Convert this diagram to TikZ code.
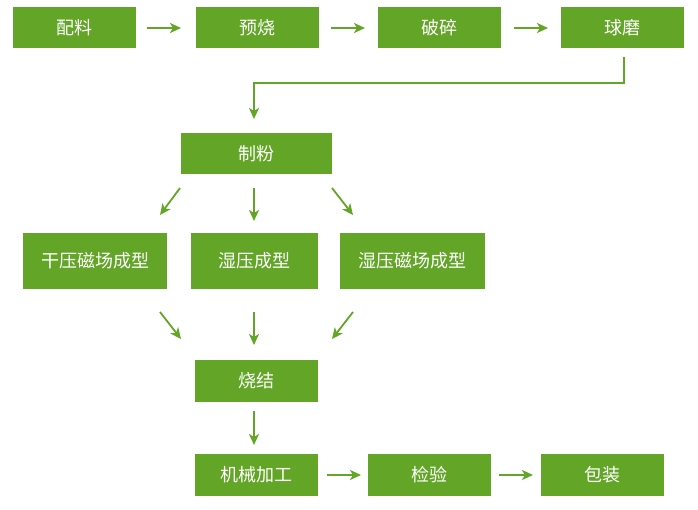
\documentclass[tikz,border=0pt]{standalone}
\usepackage{fontspec}
\setmainfont{Noto Sans CJK SC}
\usetikzlibrary{arrows.meta}
\definecolor{fgreen}{HTML}{62A527}
\tikzset{
  box/.style={fill=fgreen, draw=none, text=white, font=\fontsize{18}{21}\selectfont, inner sep=0pt},
  arr/.style={draw=fgreen, line width=1.8pt, -{Stealth[length=11pt,width=10pt,inset=3pt]}},
}
\begin{document}
\begin{tikzpicture}[x=1pt,y=-1pt]
\useasboundingbox (0,0) rectangle (698,510);
\node[box, minimum width=123pt, minimum height=41pt] (peiliao) at (74.5,28) {配料};
\node[box, minimum width=123pt, minimum height=41pt] (yushao) at (257.5,28) {预烧};
\node[box, minimum width=123pt, minimum height=41pt] (posui) at (439.5,28) {破碎};
\node[box, minimum width=123pt, minimum height=41pt] (qiumo) at (622.5,28) {球磨};
\node[box, minimum width=151pt, minimum height=41pt] (zhifen) at (256.5,153.5) {制粉};
\node[box, minimum width=144pt, minimum height=56pt] (gan) at (95,261) {干压磁场成型};
\node[box, minimum width=127pt, minimum height=56pt] (shi) at (254.5,261) {湿压成型};
\node[box, minimum width=145pt, minimum height=56pt] (shic) at (412.5,261) {湿压磁场成型};
\node[box, minimum width=123pt, minimum height=42pt] (shaojie) at (256.5,381) {烧结};
\node[box, minimum width=123pt, minimum height=42pt] (jixie) at (256.5,475) {机械加工};
\node[box, minimum width=123pt, minimum height=42pt] (jianyan) at (429.5,475) {检验};
\node[box, minimum width=123pt, minimum height=42pt] (baozhuang) at (602.5,475) {包装};
% arrow end points
\coordinate (a1s) at (147,28); \coordinate (a1e) at (181,28);
\coordinate (a2s) at (331,28); \coordinate (a2e) at (365,28);
\coordinate (a3s) at (514,28); \coordinate (a3e) at (548,28);
\draw[arr] (a1s) -- (a1e);
\draw[arr] (a2s) -- (a2e);
\draw[arr] (a3s) -- (a3e);
\coordinate (q1) at (624,57); \coordinate (q2) at (624,83); \coordinate (q3) at (254,83); \coordinate (q4) at (254,119);
\draw[arr] (q1) -- (q2) -- (q3) -- (q4);
\coordinate (z1s) at (180,188); \coordinate (z1e) at (160,215);
\coordinate (z2s) at (254,188); \coordinate (z2e) at (254,221);
\coordinate (z3s) at (332,188); \coordinate (z3e) at (353,215);
\draw[arr] (z1s) -- (z1e);
\draw[arr] (z2s) -- (z2e);
\draw[arr] (z3s) -- (z3e);
\coordinate (s1s) at (160,312); \coordinate (s1e) at (181,339);
\coordinate (s2s) at (254,312); \coordinate (s2e) at (254,345);
\coordinate (s3s) at (353,312); \coordinate (s3e) at (332,339);
\draw[arr] (s1s) -- (s1e);
\draw[arr] (s2s) -- (s2e);
\draw[arr] (s3s) -- (s3e);
\coordinate (j1s) at (254,411); \coordinate (j1e) at (254,445);
\draw[arr] (j1s) -- (j1e);
\coordinate (b1s) at (327,475); \coordinate (b1e) at (361,475);
\coordinate (b2s) at (499,475); \coordinate (b2e) at (533,475);
\draw[arr] (b1s) -- (b1e);
\draw[arr] (b2s) -- (b2e);
\end{tikzpicture}
\end{document}
